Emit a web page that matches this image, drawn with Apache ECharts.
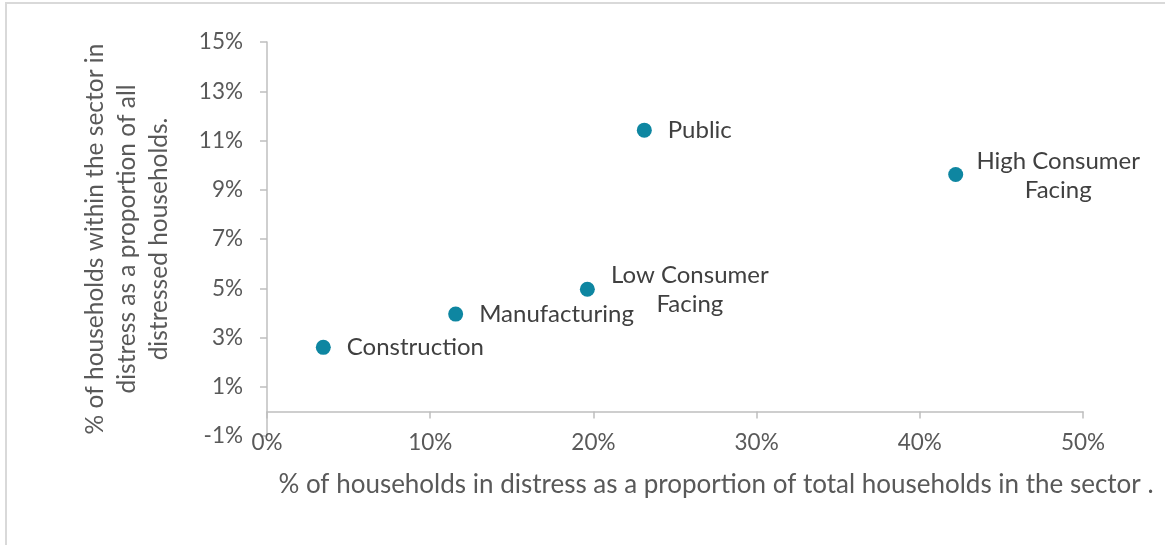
<!DOCTYPE html>
<html>
<head>
<meta charset="utf-8">
<script src="https://cdn.jsdelivr.net/npm/echarts@6/dist/echarts.min.js"></script>
<style>
  html, body { margin: 0; padding: 0; background: #fff; }
  #chart { width: 1165px; height: 545px; }
</style>
</head>
<body>
<div id="chart"></div>
<script>
// sectors and their readings (percent)
const sectors = ['Construction', 'Manufacturing', 'Low Consumer\nFacing', 'Public', 'High Consumer\nFacing'];
const shareOfSector = [3.45, 11.56, 19.63, 23.12, 42.2];   // x: % of households in distress in the sector
const shareOfDistressed = [2.6, 3.95, 4.96, 11.42, 9.62];  // y: % of all distressed households

const font = 'Lato, "Open Sans", sans-serif';
const axisGrey = '#bfbfbf';

const chart = echarts.init(document.getElementById('chart'));

chart.setOption({
  animation: false,
  textStyle: {fontFamily: font},
  graphic: [{
    type: 'rect',
    shape: {x: 6, y: 3, width: 3000, height: 3000},
    style: {fill: 'none', stroke: '#d9d9d9', lineWidth: 2},
    silent: true
  }],
  grid: {left: 267, right: 82, top: 42, bottom: 109},
  xAxis: {
    type: 'value',
    min: 0,
    max: 50,
    interval: 10,
    splitLine: {show: false},
    axisLine: {onZero: true, lineStyle: {color: axisGrey, width: 1.5}},
    axisTick: {show: true, length: 7, lineStyle: {color: axisGrey, width: 1.5}},
    axisLabel: {
      margin: -5,
      fontSize: 22.5,
      color: '#595959',
      fontFamily: font,
      formatter: '{value}%'
    },
    name: '% of households in distress as a proportion of total households in the sector .',
    nameLocation: 'middle',
    nameGap: 36,
    nameTextStyle: {fontSize: 26, color: '#595959', fontFamily: font, padding: [0, 0, 0, 82]}
  },
  yAxis: {
    type: 'value',
    min: -1,
    max: 15,
    interval: 2,
    splitLine: {show: false},
    axisLine: {show: true, lineStyle: {color: axisGrey, width: 1.5}},
    axisTick: {show: true, length: 7, lineStyle: {color: axisGrey, width: 1.5}},
    axisLabel: {
      margin: 24,
      fontSize: 22.5,
      color: '#595959',
      fontFamily: font,
      formatter: '{value}%'
    },
    name: '% of households within the sector in\ndistress as a proportion of all\ndistressed households.',
    nameLocation: 'middle',
    nameRotate: 90,
    nameGap: 92,
    nameTextStyle: {fontSize: 24.5, lineHeight: 32, color: '#595959', fontFamily: font, align: 'center'}
  },
  series: [{
    type: 'scatter',
    symbolSize: 15,
    itemStyle: {color: '#0e86a1', opacity: 1},
    label: {
      show: true,
      position: 'right',
      distance: 16,
      fontSize: 24,
      lineHeight: 29,
      color: '#404040',
      fontFamily: font,
      formatter: p => sectors[p.dataIndex]
    },
    data: shareOfSector.map((x, i) => {
      const item = {value: [x, shareOfDistressed[i]]};
      if (sectors[i].includes('\n')) {
        item.label = {align: 'center', offset: [79, 1]};
      }
      return item;
    })
  }]
});
</script>
</body>
</html>
